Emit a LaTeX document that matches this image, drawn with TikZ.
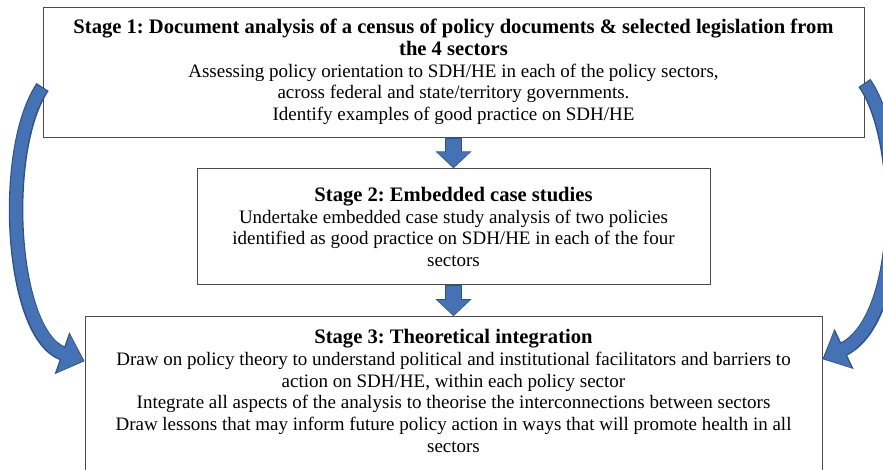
\documentclass[tikz,border=0pt]{standalone}
\usepackage{fontspec}
\setmainfont{Liberation Serif}
\usetikzlibrary{positioning,arrows.meta}
\definecolor{arrowblue}{RGB}{68,114,180}
\definecolor{arrowedge}{RGB}{44,82,140}
\newcommand{\stagehead}[1]{{\fontsize{20.6}{21.7}\selectfont\bfseries #1}}
\frenchspacing

\begin{document}
\begin{tikzpicture}[
    x=1pt, y=-1pt,
    node distance=31pt, % Abstand zwischen den Stufen
    every node/.style={font=\fontsize{19}{21.7}\selectfont}, % Schrift der Knoten
    stagebox/.style={draw=black!70, line width=0.8pt, align=center, inner xsep=0pt, inner ysep=0pt}, % Stil der Stufen
    downedge/.style={line width=17.5pt, draw=arrowedge, -{Triangle[length=17pt, width=35pt]}}, % Rand der kurzen Pfeile
    downfill/.style={line width=15pt, draw=arrowblue, shorten <=1.2pt, shorten >=1.2pt, -{Triangle[length=15pt, width=32pt]}}, % Fuellung der kurzen Pfeile
    loopedge/.style={line width=14.5pt, draw=arrowedge, -{Triangle[length=24pt, width=43pt]}}, % Rand der Bogenpfeile
    loopfill/.style={line width=12pt, draw=arrowblue, shorten <=1.2pt, shorten >=1.6pt, -{Triangle[length=21pt, width=39pt]}} % Fuellung der Bogenpfeile
]
\useasboundingbox (0,0) rectangle (883,470);
\clip (0,0) rectangle (883,470);

% Stufe 1
\node[stagebox, minimum width=821pt, minimum height=130pt] (stage1) at (453.5,72)
  {\stagehead{Stage 1: Document analysis of a census of policy documents \& selected legislation from}\\
   \stagehead{the 4 sectors}\\
   Assessing policy orientation to SDH/HE in each of the policy sectors,\\
   across federal and state/territory governments.\\
   Identify examples of good practice on SDH/HE};

% Stufe 2 (unter Stufe 1)
\node[stagebox, minimum width=513pt, minimum height=116pt] (stage2) [below=of stage1]
  {\stagehead{Stage 2: Embedded case studies}\\
   Undertake embedded case study analysis of two policies\\
   identified as good practice on SDH/HE in each of the four\\
   sectors};

% Stufe 3 (unter Stufe 2)
\node[stagebox, minimum width=737pt, inner ysep=13pt, text depth=40pt] (stage3) [below=of stage2]
  {\stagehead{Stage 3: Theoretical integration}\\
   Draw on policy theory to understand political and institutional facilitators and barriers to\\
   action on SDH/HE, within each policy sector\\
   Integrate all aspects of the analysis to theorise the interconnections between sectors\\
   Draw lessons that may inform future policy action in ways that will promote health in all\\
   sectors};

% kurze Pfeile zwischen den Stufen
\foreach \from/\to in {stage1/stage2, stage2/stage3} {
  \draw[downedge] (\from.south) -- (\to.north);
  \draw[downfill] (\from.south) -- (\to.north);
}

% Bogenpfeile von Stufe 1 zu Stufe 3
\draw[loopedge] ([yshift=-15pt]stage1.west) .. controls (0,150) and (10,335) .. ([yshift=-45pt]stage3.north west);
\draw[loopfill] ([yshift=-15pt]stage1.west) .. controls (0,150) and (10,335) .. ([yshift=-45pt]stage3.north west);
\draw[loopedge] ([yshift=-11pt]stage1.east) .. controls (905,140) and (905,320) .. ([yshift=-43pt]stage3.north east);
\draw[loopfill] ([yshift=-11pt]stage1.east) .. controls (905,140) and (905,320) .. ([yshift=-43pt]stage3.north east);

\end{tikzpicture}
\end{document}
